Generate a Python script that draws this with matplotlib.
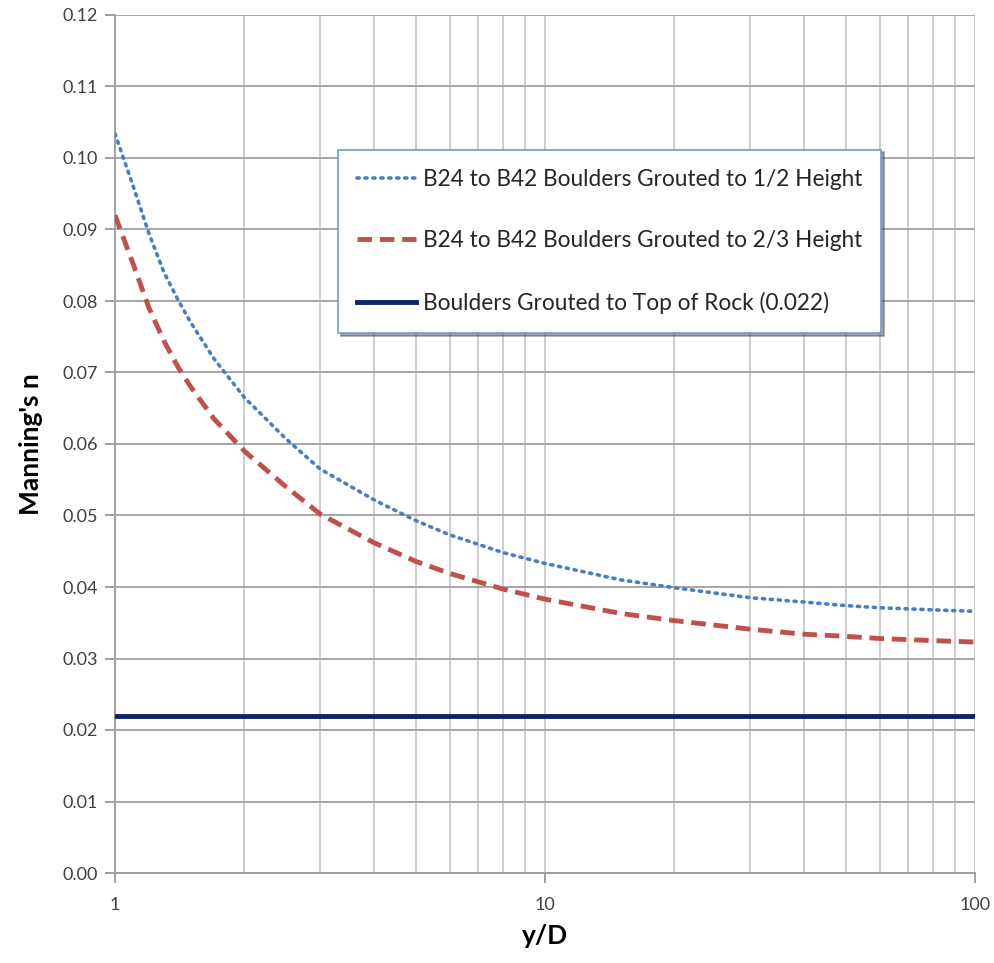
import matplotlib
matplotlib.use("Agg")
import matplotlib.pyplot as plt
from matplotlib.ticker import FixedLocator, NullFormatter, FormatStrFormatter

plt.rcParams['font.family'] = ['Lato', 'DejaVu Sans']

# ---------------- DATA ----------------
y_over_d = [1, 1.1, 1.2, 1.3, 1.4, 1.5, 1.7, 2, 2.5, 3, 4, 5, 6, 8, 10,
            15, 20, 30, 40, 50, 60, 80, 100]
n_half = [0.1034, 0.0962, 0.0894, 0.0840, 0.0802, 0.0770, 0.0719, 0.0665, 0.0607,
          0.0565, 0.0522, 0.0493, 0.0473, 0.0448, 0.0433, 0.0410, 0.0399, 0.0385,
          0.0379, 0.0374, 0.0371, 0.0368, 0.0366]
n_two_thirds = [0.0920, 0.0853, 0.0790, 0.0744, 0.0708, 0.0680, 0.0635, 0.0590, 0.0540,
                0.0502, 0.0462, 0.0436, 0.0419, 0.0397, 0.0383, 0.0363, 0.0353, 0.0341,
                0.0334, 0.0331, 0.0328, 0.0325, 0.0323]
n_top = 0.022

labels = ["B24 to B42 Boulders Grouted to 1/2 Height",
          "B24 to B42 Boulders Grouted to 2/3 Height",
          "Boulders Grouted to Top of Rock (0.022)"]

# ---------------- FIGURE ----------------
fig = plt.figure(figsize=(9.95, 9.63), dpi=100)
ax = fig.add_axes([115 / 995, 1 - 873 / 963, 860 / 995, 858 / 963])

ax.plot(y_over_d, n_half, color='#4A7EC4', lw=2.6, linestyle=(0, (0.6, 1.6)),
        dash_capstyle='round', label=labels[0], zorder=3)
ax.plot(y_over_d, n_two_thirds, color='#C0504D', lw=3.5, linestyle=(0, (3, 1.6)),
        label=labels[1], zorder=3)
ax.plot([y_over_d[0], y_over_d[-1]], [n_top, n_top], color='#0B2565', lw=3.5,
        label=labels[2], zorder=3)

ax.set_xscale('log')
ax.set_xlim(1, 100)
ax.set_ylim(0, 0.12)

ax.xaxis.set_major_locator(FixedLocator([1, 10, 100]))
ax.xaxis.set_major_formatter(FormatStrFormatter('%d'))
ax.xaxis.set_minor_locator(FixedLocator([k * d for d in (1, 10) for k in range(2, 10)]))
ax.xaxis.set_minor_formatter(NullFormatter())
ax.set_yticks([i / 100 for i in range(13)])
ax.yaxis.set_major_formatter(FormatStrFormatter('%.2f'))

ax.grid(True, axis='y', which='major', color='#A6A6A6', lw=1.4)
ax.grid(True, axis='x', which='both', color='#CDCDCD', lw=1.4)
ax.set_axisbelow(True)

for side in ('top', 'right'):
    ax.spines[side].set_visible(False)
for side in ('left', 'bottom'):
    ax.spines[side].set_color('#A0A0A0')
    ax.spines[side].set_linewidth(1.4)

ax.tick_params(axis='both', which='major', length=7, width=1.4, color='#A0A0A0',
               labelsize=13, labelcolor='#404040', direction='out')
ax.tick_params(axis='x', which='minor', length=0)
ax.tick_params(axis='x', which='major', pad=10)
ax.tick_params(axis='y', which='major', pad=5)

ax.set_ylabel("Manning's n", fontsize=19, fontweight='bold', labelpad=14)
ax.set_xlabel("y/D", fontsize=19, fontweight='bold', labelpad=8)

leg = ax.legend(loc='upper left', bbox_to_anchor=(0.259, 0.843), fontsize=16.3,
                frameon=True, fancybox=False, shadow=True, borderpad=0.85,
                labelspacing=1.78, handlelength=2.6, handletextpad=0.3,
                borderaxespad=0)
leg.get_frame().set_edgecolor('#6E9BD1')
leg.get_frame().set_linewidth(1.2)
for t in leg.get_texts():
    t.set_color('#262626')

fig.savefig("out.png", dpi=100)
